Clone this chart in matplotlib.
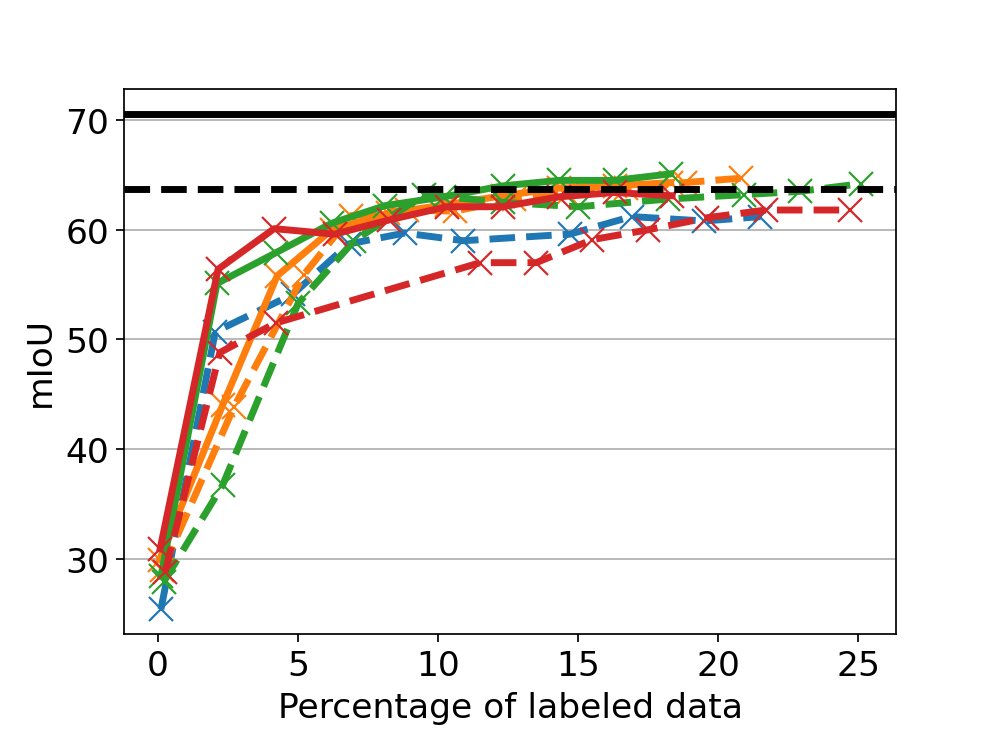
import matplotlib
matplotlib.use("Agg")
import matplotlib.pyplot as plt

# ---- data ----
blue_dash_x = [0.1, 2.04, 4.8, 6.8, 8.8, 10.9, 14.7, 16.9, 19.5, 21.5]
blue_dash_y = [25.4, 50.7, 54.1, 58.7, 59.7, 59.0, 59.6, 61.2, 60.8, 61.2]

orange_x = [0.05, 2.3, 4.25, 6.2, 8.2, 10.3, 12.3, 14.3, 16.3, 18.3]
orange_y = [29.9, 44.0, 55.8, 60.0, 61.5, 62.3, 63.1, 63.8, 64.0, 64.3]
orange_dash_x = [0.15, 2.7, 5.2, 6.9, 8.9, 10.6, 12.7, 14.6, 16.7, 18.8, 20.8]
orange_dash_y = [29.0, 43.8, 55.9, 61.3, 61.8, 61.7, 62.8, 63.3, 63.8, 64.3, 64.7]

green_x = [0.1, 2.1, 4.2, 6.2, 8.1, 10.2, 12.3, 14.3, 16.3, 18.3]
green_y = [28.4, 55.1, 57.9, 60.6, 62.2, 63.0, 64.0, 64.5, 64.5, 65.1]
green_dash_x = [0.2, 2.3, 5.0, 7.0, 9.5, 12.3, 15.0, 18.2, 20.9, 22.9, 25.1]
green_dash_y = [27.9, 36.7, 53.3, 59.0, 63.2, 62.5, 62.1, 62.8, 63.2, 63.5, 64.2]

red_x = [0.07, 2.14, 4.14, 6.3, 8.25, 10.3, 12.3, 14.3, 16.3, 18.35]
red_y = [30.9, 56.4, 60.1, 59.6, 60.9, 62.1, 62.1, 63.0, 63.4, 63.1]
red_dash_x = [0.25, 2.2, 4.2, 11.5, 13.5, 15.5, 17.5, 19.6, 21.7, 24.7]
red_dash_y = [28.8, 48.8, 51.5, 57.0, 57.0, 59.1, 60.0, 61.1, 61.8, 61.8]

upper_ref = 70.6
lower_ref = 63.7

fig = plt.figure(figsize=(6.4, 4.8), dpi=155.6)
ax = fig.add_subplot(111)
fig.subplots_adjust(left=0.125, right=0.9, top=0.88, bottom=0.15)

lw = 3.2
ms = 11
kw = dict(marker="x", markersize=ms, linewidth=lw)

ax.plot(blue_dash_x, blue_dash_y, color="tab:blue", linestyle="--", **kw)
ax.plot(orange_x, orange_y, color="tab:orange", linestyle="-", **kw)
ax.plot(orange_dash_x, orange_dash_y, color="tab:orange", linestyle="--", **kw)
ax.plot(green_x, green_y, color="tab:green", linestyle="-", **kw)
ax.plot(green_dash_x, green_dash_y, color="tab:green", linestyle="--", **kw)
ax.plot(red_dash_x, red_dash_y, color="tab:red", linestyle="--", **kw)
ax.plot(red_x, red_y, color="tab:red", linestyle="-", **kw)

ax.axhline(upper_ref, color="black", linestyle="-", linewidth=lw)
ax.axhline(lower_ref, color="black", linestyle="--", linewidth=lw)

ax.yaxis.grid(True)
ax.set_axisbelow(True)
ax.set_xlabel("Percentage of labeled data", fontsize=16)
ax.set_ylabel("mIoU", fontsize=16)
ax.tick_params(labelsize=16)
ax.set_yticks([30, 40, 50, 60, 70])
ax.set_xticks([0, 5, 10, 15, 20, 25])

fig.savefig("out.png", dpi=155.6)
